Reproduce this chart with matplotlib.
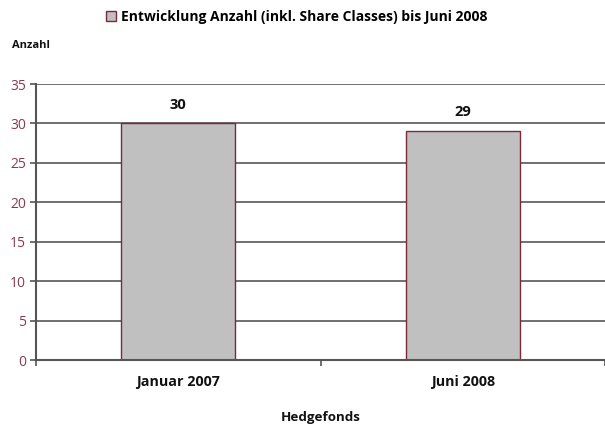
"""Hedgefonds: Entwicklung Anzahl bis Juni 2008."""
import matplotlib.pyplot as plt
from matplotlib.patches import Patch

categories = ['Januar 2007', 'Juni 2008']
values = [30, 29]
y_ticks = [0, 5, 10, 15, 20, 25, 30, 35]
series_name = 'Entwicklung Anzahl (inkl. Share Classes) bis Juni 2008'

plt.rcParams['font.family'] = ['Open Sans', 'DejaVu Sans']

fig = plt.figure(figsize=(6.05, 4.24), dpi=100)
ax = fig.add_axes([36 / 605, 1 - 360 / 424, 1 - 36 / 605, (360 - 84) / 424])

x = range(len(categories))
bars = ax.bar(x, values, width=0.4, color='#c0c0c0', edgecolor='#7a2a3a',
              linewidth=1, zorder=3)

# Value labels on top of the bars
for rect, v in zip(bars, values):
    ax.text(rect.get_x() + rect.get_width() / 2, v + 1.5, str(v),
            ha='center', va='bottom', fontsize=10.5, fontweight='bold',
            color='#111111')

ax.set_xlim(-0.5, 1.5)
ax.set_ylim(0, 35)
ax.set_yticks(y_ticks)
ax.tick_params(axis='y', colors='#555555', labelcolor='#8b3a4e',
               labelsize=10, length=4, width=1.2, pad=3)
ax.yaxis.grid(True, color='#707070', linewidth=1.4, zorder=0)

# Category labels between the boundary ticks
ax.set_xticks([-0.5, 0.5, 1.5])
ax.set_xticklabels([])
ax.set_xticks(list(x), minor=True)
ax.set_xticklabels(categories, minor=True, fontsize=10.3, fontweight='bold')
ax.tick_params(axis='x', which='major', length=4, width=1.2, colors='#555555')
ax.tick_params(axis='x', which='minor', length=0, pad=11, labelcolor='#111111')

for side in ['top', 'right']:
    ax.spines[side].set_visible(False)
for side in ['left', 'bottom']:
    ax.spines[side].set_color('#555555')
    ax.spines[side].set_linewidth(1.5)
ax.spines['bottom'].set_zorder(4)

ax.set_xlabel('Hedgefonds', fontsize=9.6, fontweight='bold',
              labelpad=16, color='#111111')
fig.text(12 / 605, 1 - 45 / 424, 'Anzahl', fontsize=8,
         fontweight='bold', va='center', color='#111111')

handle = Patch(facecolor='#c0c0c0', edgecolor='#7a2a3a', linewidth=1)
fig.legend([handle], [series_name], loc='center',
           bbox_to_anchor=(297 / 605, 1 - 17 / 424), frameon=False,
           handlelength=0.7, handleheight=0.7, handletextpad=0.4,
           prop={'weight': 'bold', 'size': 10})

fig.savefig('out.png', dpi=100)
